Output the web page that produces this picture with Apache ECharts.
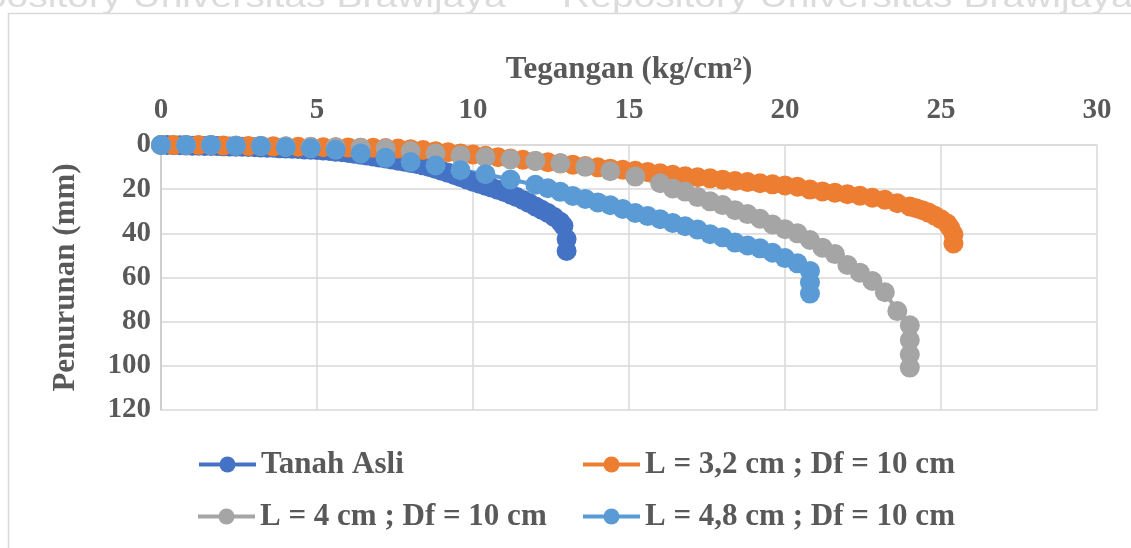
<!DOCTYPE html>
<html><head><meta charset="utf-8">
<script src="https://cdn.jsdelivr.net/npm/echarts@6/dist/echarts.min.js"></script>
<style>html,body{margin:0;padding:0;background:#fff}#c{width:1131px;height:548px}</style>
</head><body><div id="c"></div>
<script>
const xTicks = [0,5,10,15,20,25,30];
const yTicks = [0,20,40,60,80,100,120];
const xTitle = 'Tegangan (kg/cm²)';
const yTitle = 'Penurunan (mm)';
const seriesNames = ['Tanah Asli','L = 3,2 cm ; Df = 10 cm','L = 4 cm ; Df = 10 cm','L = 4,8 cm ; Df = 10 cm'];
const seriesColors = ['#4472C4','#ED7D31','#A5A5A5','#5B9BD5'];

const tanahX = [0,0.2,0.4,0.6,0.8,1.0,1.2,1.4,1.6,1.8,2.0,2.2,2.4,2.6,2.8,3.0,3.2,3.4,3.6,3.8,4.0,4.2,4.4,4.6,4.8,5.0,5.2,5.4,5.6,5.8,6.0,6.2,6.4,6.6,6.8,7.0,7.2,7.4,7.6,7.8,8.0,8.2,8.4,8.6,8.8,9.0,9.2,9.4,9.6,9.8,10.0,10.2,10.4,10.6,10.8,11.0,11.2,11.4,11.6,11.8,12.0,12.2,12.4,12.6,12.8,12.9,13.0,13.0];
const tanahY = [0,0,0.1,0.1,0.2,0.3,0.3,0.4,0.5,0.5,0.6,0.7,0.8,0.8,0.9,1.0,1.1,1.2,1.3,1.5,1.6,1.7,1.8,2.0,2.1,2.3,2.5,2.7,3.0,3.3,3.6,4.0,4.4,4.8,5.2,5.7,6.1,6.6,7.1,7.6,8.1,8.6,9.2,10.0,10.8,11.7,12.6,13.6,14.6,15.6,16.6,17.5,18.4,19.3,20.3,21.3,22.4,23.6,24.9,26.3,27.8,29.3,30.8,32.6,34.8,36.6,42.6,48.0];

const l32X = [0,0.4,0.8,1.2,1.6,2.0,2.4,2.8,3.2,3.6,4.0,4.4,4.8,5.2,5.6,6.0,6.4,6.8,7.2,7.6,8.0,8.4,8.8,9.2,9.6,10.0,10.4,10.8,11.2,11.6,12.0,12.4,12.8,13.2,13.6,14.0,14.4,14.8,15.2,15.6,16.0,16.4,16.8,17.2,17.6,18.0,18.4,18.8,19.2,19.6,20.0,20.4,20.8,21.2,21.6,22.0,22.4,22.8,23.2,23.6,24.0,24.2,24.4,24.6,24.8,25.0,25.2,25.3,25.4,25.4];
const l32Y = [0,0,0,0,0.1,0.2,0.3,0.4,0.5,0.6,0.7,0.8,0.9,1.0,1.0,1.1,1.2,1.3,1.4,1.6,1.9,2.3,2.8,3.3,3.8,4.3,4.9,5.5,6.1,6.7,7.2,7.8,8.3,8.9,9.5,10.1,10.7,11.2,11.7,12.2,12.8,13.5,14.1,14.6,15.1,15.7,16.3,16.8,17.3,17.8,18.3,18.9,20.2,21.0,21.6,22.3,23.0,23.9,24.8,26.4,27.8,28.6,29.5,30.6,32.0,33.6,35.6,37.6,40.4,44.6];

const l4X = [0,0.8,1.6,2.4,3.2,4.0,4.8,5.6,6.4,7.2,8.0,8.8,9.6,10.4,11.2,12.0,12.8,13.6,14.4,15.2,16.0,16.4,16.8,17.2,17.6,18.0,18.4,18.8,19.2,19.6,20.0,20.4,20.8,21.2,21.6,22.0,22.4,22.8,23.2,23.6,24.0,24.0,24.0,24.0];
const l4Y = [0,0,0,0.2,0.4,0.6,0.8,1.0,1.2,1.6,2.7,3.8,4.7,5.5,6.5,7.2,8.3,9.9,11.9,14.3,17.3,19.7,21.1,23.6,25.5,27.2,29.5,31.3,33.4,36.0,38.1,40.0,43.0,46.5,49.4,54.3,57.8,61.6,66.7,75.2,81.6,88.3,94.9,100.8];

const l48X = [0,0.8,1.6,2.4,3.2,4.0,4.8,5.6,6.4,7.2,8.0,8.8,9.6,10.4,11.2,12.0,12.4,12.8,13.2,13.6,14.0,14.4,14.8,15.2,15.6,16.0,16.4,16.8,17.2,17.6,18.0,18.4,18.8,19.2,19.6,20.0,20.4,20.8,20.8,20.8];
const l48Y = [0,0,0,0.4,0.5,1.0,1.5,2.2,3.8,5.8,7.7,9.3,11.4,13.2,15.6,18.0,19.6,21.2,23.1,24.4,26.0,27.3,29.0,30.8,32.2,33.6,35.3,36.8,38.3,40.4,41.8,44.2,45.5,46.8,48.8,51.2,53.6,57.0,62.3,67.3];

const watermark = 'Repository Universitas Brawijaya';

function pairs(xs, ys){ return xs.map((x,i)=>[x, ys[i]]); }
const allX = [tanahX, l32X, l4X, l48X];
const allY = [tanahY, l32Y, l4Y, l48Y];

const serif = '"Liberation Serif","Times New Roman",serif';
const textCol = '#595959';
const gridCol = '#D9D9D9';

const chart = echarts.init(document.getElementById('c'));
const legendPos = [[197,449],[581,449],[196,501],[581,501]];

chart.setOption({
  animation: false,
  backgroundColor: '#fff',
  grid: {left:161, right:34, top:145, bottom:138, containLabel:false},
  xAxis: {
    type:'value', position:'top',
    min: xTicks[0], max: xTicks[xTicks.length-1], interval: xTicks[1]-xTicks[0],
    axisLine:{show:true, lineStyle:{color:gridCol, width:1.5}},
    axisTick:{show:false},
    splitLine:{show:true, lineStyle:{color:gridCol, width:1.5}},
    axisLabel:{margin:20, fontFamily:serif, fontWeight:'bold', fontSize:29, color:textCol},
    name: xTitle, nameLocation:'middle', nameGap:60,
    nameTextStyle:{fontFamily:serif, fontWeight:'bold', fontSize:31, color:textCol}
  },
  yAxis: {
    type:'value', inverse:true,
    min: yTicks[0], max: yTicks[yTicks.length-1], interval: yTicks[1]-yTicks[0],
    axisLine:{show:true, lineStyle:{color:'#C9C9C9', width:1.5}},
    axisTick:{show:false},
    splitLine:{show:true, lineStyle:{color:gridCol, width:1.5}},
    axisLabel:{margin:10, fontFamily:serif, fontWeight:'bold', fontSize:29, color:textCol},
    name: yTitle, nameLocation:'middle', nameGap:80,
    nameTextStyle:{fontFamily:serif, fontWeight:'bold', fontSize:31, color:textCol}
  },
  legend: seriesNames.map((n,i)=>({
    data:[n], left:legendPos[i][0], top:legendPos[i][1], padding:0,
    itemWidth:57, itemHeight:20, selectedMode:false,
    lineStyle:{width:4},
    textStyle:{fontFamily:serif, fontWeight:'bold', fontSize:31, color:textCol}
  })),
  graphic: [
    {type:'rect', silent:true, shape:{x:8.5, y:13.5, width:1300, height:700},
     style:{fill:'none', stroke:gridCol, lineWidth:1.5}},
    {type:'text', silent:true, x:-65, y:-2, scaleX:1.22,
     style:{text:watermark, font:'32px "Liberation Sans", Arial, sans-serif', fill:'#DCDCDC', verticalAlign:'middle'}},
    {type:'text', silent:true, x:562, y:-2, scaleX:1.22,
     style:{text:watermark, font:'32px "Liberation Sans", Arial, sans-serif', fill:'#DCDCDC', verticalAlign:'middle'}}
  ],
  series: seriesNames.map((n,i)=>({
    type:'line', name:n, data: pairs(allX[i], allY[i]),
    symbol:'circle', symbolSize:20, showSymbol:true, clip:false,
    lineStyle:{width:4, color:seriesColors[i]},
    itemStyle:{color:seriesColors[i]},
    emphasis:{disabled:true}
  }))
});
</script></body></html>
